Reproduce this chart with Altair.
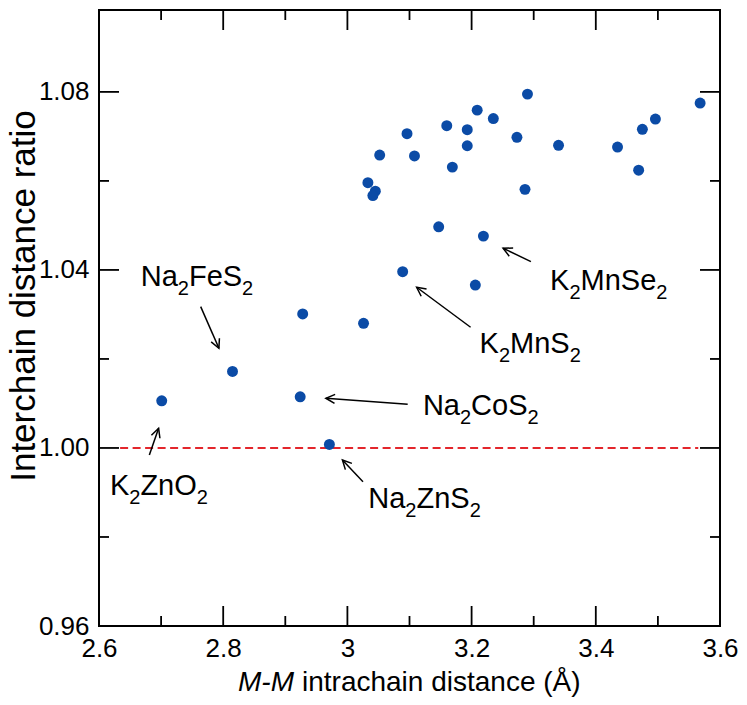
import math
import altair as alt
import pandas as pd

# ---------------- data ----------------
mm_distance = [2.701, 2.815, 2.924, 2.971, 2.928, 3.026, 3.089, 3.206, 3.147, 3.219,
               3.033, 3.045, 3.041, 3.052, 3.108, 3.096, 3.160, 3.169, 3.193, 3.193,
               3.209, 3.235, 3.273, 3.290, 3.286, 3.340, 3.435, 3.469, 3.475, 3.496, 3.568]
ratio = [1.0106, 1.0172, 1.0115, 1.0008, 1.0301, 1.0280, 1.0396, 1.0366, 1.0497, 1.0476,
         1.0596, 1.0577, 1.0567, 1.0658, 1.0656, 1.0706, 1.0724, 1.0631, 1.0715, 1.0679,
         1.0759, 1.0740, 1.0698, 1.0795, 1.0581, 1.0680, 1.0676, 1.0624, 1.0716, 1.0739, 1.0775]

# formula labels as (text, is_subscript) pieces
label_parts = [
    [("K", 0), ("2", 1), ("ZnO", 0), ("2", 1)],
    [("Na", 0), ("2", 1), ("FeS", 0), ("2", 1)],
    [("Na", 0), ("2", 1), ("CoS", 0), ("2", 1)],
    [("Na", 0), ("2", 1), ("ZnS", 0), ("2", 1)],
    [("K", 0), ("2", 1), ("MnS", 0), ("2", 1)],
    [("K", 0), ("2", 1), ("MnSe", 0), ("2", 1)],
]
label_left_x = [2.6176, 2.6672, 3.1216, 3.0336, 3.2128, 3.3264]
label_y = [0.98944, 1.03640, 1.00742, 0.98652, 1.02135, 1.03551]
arrow_x_from = [2.6811, 2.7637, 3.0971, 3.0251, 3.1984, 3.2955]
arrow_y_from = [0.99843, 1.03175, 1.00982, 0.99243, 1.02712, 1.04187]
arrow_x_to = [2.6960, 2.7931, 2.9653, 2.9920, 3.1115, 3.2507]
arrow_y_to = [1.00443, 1.02240, 1.01117, 0.99730, 1.03611, 1.04488]

ref_line_x = [2.634, 3.565]
ref_line_y = [1.0]

x_label_values = [2.6, 2.8, 3.0, 3.2, 3.4, 3.6]
y_label_values = [0.96, 1.00, 1.04, 1.08]
x_major_ticks = [2.8, 3.0, 3.2, 3.4]
x_minor_ticks = [2.7, 2.9, 3.1, 3.3, 3.5]
y_major_ticks = [1.00, 1.04, 1.08]
y_minor_ticks = [0.98, 1.02, 1.06]

x_title_italic = "M-M"
x_title_rest = "intrachain distance (Å)"
y_title = "Interchain distance ratio"

# ---------------- layout ----------------
W, H = 621, 616
X_DOM = [2.6, 3.6]
Y_DOM = [0.96, 1.0984]
FONT = "Liberation Sans"
BLUE = "#0b4ba6"
RED = "#e3262c"
MAJ, MIN = 20, 10
FS_MAIN, FS_SUB, SUB_SHIFT = 29, 20, 9

# Liberation Sans (Arial-metric) advance widths, in em
CHAR_W = {"K": 0.667, "N": 0.722, "a": 0.556, "Z": 0.611, "n": 0.556, "O": 0.778,
          "F": 0.611, "e": 0.556, "S": 0.667, "C": 0.722, "o": 0.556, "M": 0.833,
          "2": 0.556}

xs = alt.Scale(domain=X_DOM, nice=False, zero=False)
ys = alt.Scale(domain=Y_DOM, nice=False, zero=False)

XAX = alt.Axis(values=x_label_values, format="~g", title=None, ticks=False,
               domain=False, grid=False, labelFontSize=26, labelFont=FONT,
               labelColor="black", labelPadding=9, labelFlush=False,
               labelOverlap=False)
YAX = alt.Axis(values=y_label_values, format=".2f", title=None, ticks=False,
               domain=False, grid=False, labelFontSize=26, labelFont=FONT,
               labelColor="black", labelPadding=10, labelOverlap=False)

px_x = W / (X_DOM[1] - X_DOM[0])
px_y = H / (Y_DOM[1] - Y_DOM[0])

pts = pd.DataFrame({"x": mm_distance, "y": ratio})

points = alt.Chart(pts).mark_circle(size=120, color=BLUE, opacity=1).encode(
    x=alt.X("x:Q", scale=xs, axis=XAX),
    y=alt.Y("y:Q", scale=ys, axis=YAX),
)

ref_df = pd.DataFrame({"x": [ref_line_x[0]], "x2": [ref_line_x[1]], "y": ref_line_y})
ref_line = alt.Chart(ref_df).mark_rule(color=RED, strokeDash=[8, 4.5], strokeWidth=1.9).encode(
    x=alt.X("x:Q", scale=xs, axis=XAX), x2="x2:Q",
    y=alt.Y("y:Q", scale=ys, axis=YAX),
)


def xticks(vals, y0, y1):
    return alt.Chart(pd.DataFrame({"v": vals})).mark_rule(color="black", strokeWidth=1.8).encode(
        x=alt.X("v:Q", scale=xs, axis=XAX), y=alt.value(y0), y2=alt.value(y1))


def yticks(vals, x0, x1):
    return alt.Chart(pd.DataFrame({"v": vals})).mark_rule(color="black", strokeWidth=1.8).encode(
        y=alt.Y("v:Q", scale=ys, axis=YAX), x=alt.value(x0), x2=alt.value(x1))


ticks = [
    xticks(x_major_ticks, H, H - MAJ), xticks(x_minor_ticks, H, H - MIN),
    xticks(x_major_ticks, 0, MAJ), xticks(x_minor_ticks, 0, MIN),
    yticks(y_major_ticks, 0, MAJ), yticks(y_minor_ticks, 0, MIN),
    yticks(y_major_ticks, W, W - MAJ), yticks(y_minor_ticks, W, W - MIN),
]

# build label pieces, laid out left to right through the x scale
rows = []
for parts, lx, ly in zip(label_parts, label_left_x, label_y):
    offset_px = 0.0
    for txt, sub in parts:
        fs = FS_SUB if sub else FS_MAIN
        rows.append({"t": txt, "x": lx + offset_px / px_x, "y": ly, "sub": sub})
        offset_px += sum(CHAR_W[c] for c in txt) * fs
seg = pd.DataFrame(rows)

main_text = alt.Chart(seg).transform_filter("datum.sub == 0").mark_text(
    align="left", baseline="alphabetic", fontSize=FS_MAIN, font=FONT, color="black").encode(
    x=alt.X("x:Q", scale=xs, axis=XAX), y=alt.Y("y:Q", scale=ys, axis=YAX), text="t:N")
sub_text = alt.Chart(seg).transform_filter("datum.sub == 1").mark_text(
    align="left", baseline="alphabetic", fontSize=FS_SUB, font=FONT, color="black",
    dy=SUB_SHIFT).encode(
    x=alt.X("x:Q", scale=xs, axis=XAX), y=alt.Y("y:Q", scale=ys, axis=YAX), text="t:N")

angles = []
for x0, y0, x1, y1 in zip(arrow_x_from, arrow_y_from, arrow_x_to, arrow_y_to):
    dx = (x1 - x0) * px_x
    dy = -(y1 - y0) * px_y
    angles.append(math.degrees(math.atan2(dy, dx)) % 360)

arr = pd.DataFrame({"x1": arrow_x_from, "y1": arrow_y_from, "x2": arrow_x_to,
                    "y2": arrow_y_to, "ang": angles})
shafts = alt.Chart(arr).mark_rule(color="black", strokeWidth=1.5).encode(
    x=alt.X("x1:Q", scale=xs, axis=XAX), y=alt.Y("y1:Q", scale=ys, axis=YAX),
    x2="x2:Q", y2="y2:Q")
heads = alt.Chart(arr).mark_point(shape="M-1,-0.5L0,0L-1,0.5", filled=False, size=324,
                                  strokeWidth=1.5, color="black", opacity=1).encode(
    x=alt.X("x2:Q", scale=xs, axis=XAX), y=alt.Y("y2:Q", scale=ys, axis=YAX),
    angle=alt.Angle("ang:Q", scale=None))

title_df = pd.DataFrame({"t": [0]})
xt1 = alt.Chart(title_df).mark_text(text=x_title_italic, align="right", baseline="alphabetic",
                                    fontSize=28, font=FONT, fontStyle="italic",
                                    color="black").encode(x=alt.value(195), y=alt.value(681))
xt2 = alt.Chart(title_df).mark_text(text=x_title_rest, align="left", baseline="alphabetic",
                                    fontSize=28, font=FONT, color="black").encode(
    x=alt.value(203), y=alt.value(681))
yt = alt.Chart(title_df).mark_text(text=y_title, align="center", baseline="alphabetic",
                                   fontSize=35, font=FONT, angle=270,
                                   color="black").encode(x=alt.value(-64), y=alt.value(286))

chart = alt.layer(
    ref_line, *ticks, points, shafts, heads, main_text, sub_text, xt1, xt2, yt
).properties(
    width=W, height=H,
    autosize=alt.AutoSizeParams(type="none"),
    padding={"left": 91, "top": 2, "right": 19, "bottom": 71},
    background="white",
).configure_view(stroke="black", strokeWidth=2)

chart.save("out.html", embed_options={"renderer": "svg", "actions": False})
